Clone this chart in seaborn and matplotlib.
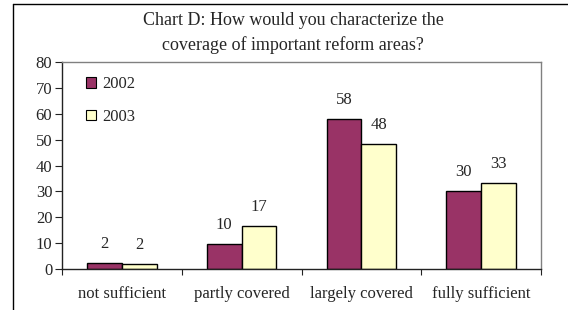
import matplotlib
matplotlib.use("Agg")
import matplotlib.pyplot as plt
import seaborn as sns
import pandas as pd
from matplotlib.lines import Line2D
from matplotlib.patches import Patch

categories = ["not sufficient", "partly covered", "largely covered", "fully sufficient"]
series_names = ["2002", "2003"]
values_2002 = [2.4, 9.8, 57.8, 30.2]
values_2003 = [1.8, 16.6, 48.3, 33.3]
labels_2002 = ["2", "10", "58", "30"]
labels_2003 = ["2", "17", "48", "33"]
yticks = [0, 10, 20, 30, 40, 50, 60, 70, 80]
title = "Chart D: How would you characterize the\ncoverage of important reform areas?"

colors = ["#993366", "#FFFFCC"]

df = pd.DataFrame({
    "category": categories * 2,
    "year": [series_names[0]] * 4 + [series_names[1]] * 4,
    "value": values_2002 + values_2003,
})

sns.set_style("white")
plt.rcParams["font.family"] = ["Liberation Serif", "DejaVu Serif"]
FS = 12

fig = plt.figure(figsize=(5.68, 3.10), dpi=100)
ax = fig.add_axes([62 / 568, 1 - 269 / 310, (541 - 62) / 568, (269 - 62) / 310])

sns.barplot(data=df, x="category", y="value", hue="year", order=categories,
            hue_order=series_names, palette=colors, width=0.58, gap=0,
            edgecolor="black", linewidth=1.0, saturation=1, ax=ax, legend=False)

for cont, labs in zip(ax.containers, [labels_2002, labels_2003]):
    ax.bar_label(cont, labels=labs, padding=8, fontsize=FS)

ax.set_ylim(0, 80)
ax.set_xlim(-0.5, 3.5)
ax.set_yticks(yticks)
ax.set_xlabel("")
ax.set_ylabel("")
ax.set_xticks([-0.5, 0.5, 1.5, 2.5, 3.5], minor=False)
ax.set_xticklabels([])
ax.set_xticks([0, 1, 2, 3], minor=True)
ax.set_xticklabels(categories, minor=True, fontsize=FS)
ax.tick_params(axis="x", which="major", direction="out", length=4, width=0.8, color="#222222", bottom=True)
ax.tick_params(axis="x", which="minor", length=0, pad=12, bottom=True)
ax.tick_params(axis="y", direction="out", length=5, width=0.8, color="#222222", labelsize=FS, pad=2, left=True)

for s in ["left", "bottom"]:
    ax.spines[s].set_color("#222222")
    ax.spines[s].set_linewidth(1.0)
for s in ["top", "right"]:
    ax.spines[s].set_color("#808080")
    ax.spines[s].set_linewidth(1.0)

handles = [Patch(facecolor=c, edgecolor="black", linewidth=0.8, label=n) for c, n in zip(colors, series_names)]
ax.legend(handles=handles, loc="upper left", bbox_to_anchor=(0.03, 0.98), frameon=False,
          fontsize=FS, handlelength=0.6, handleheight=0.6, handletextpad=0.35, labelspacing=1.0,
          borderaxespad=0.2)

fig.text(293 / 568, 1 - 33 / 310, title, ha="center", va="center", fontsize=13, linespacing=1.45)

# outer frame (left and top edges visible)
fig.add_artist(Line2D([13 / 568, 13 / 568], [0, 1 - 4 / 310], transform=fig.transFigure, color="black", lw=1.0))
fig.add_artist(Line2D([13 / 568, 1], [1 - 4 / 310, 1 - 4 / 310], transform=fig.transFigure, color="black", lw=1.0))

fig.savefig("out.png", dpi=100)
